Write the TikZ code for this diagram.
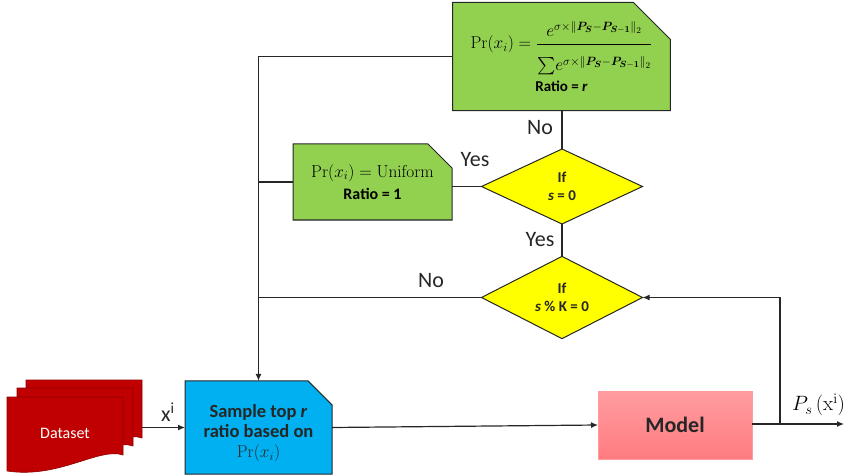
\documentclass[tikz,border=0pt]{standalone}
\usepackage{amsmath,bm}
\usepackage[no-math]{fontspec}
\setmainfont{Carlito}
\usetikzlibrary{shapes.misc,shapes.geometric,arrows.meta}
\definecolor{lin}{HTML}{262626}
\definecolor{gbox}{HTML}{92D050}
\definecolor{ybox}{HTML}{FFFF00}
\definecolor{bbox}{HTML}{00B0F0}
\definecolor{dred}{HTML}{C00000}
\definecolor{sedge}{HTML}{8E0000}
\definecolor{pinkt}{HTML}{FF9CA0}
\definecolor{pinkb}{HTML}{FF7C80}
\newcommand{\expo}{\sigma\times\left\|\bm{P}_{\bm{S}}-\bm{P}_{\bm{S}-\bm{1}}\right\|_2}
\tikzset{
  conn/.style={draw=lin, line width=1.2pt},
  arr/.style={conn, -{Latex[length=7pt,width=6pt]}},
  snip/.style={chamfered rectangle, chamfered rectangle corners=north east,
     draw=lin, line width=1pt, inner sep=0pt, outer sep=0pt, align=center, text=black},
  decision/.style={diamond, fill=ybox, draw=lin, line width=1pt, inner sep=0pt,
     outer sep=0pt, minimum width=161pt, minimum height=75pt, align=center,
     font=\fontsize{15}{18}\selectfont\bfseries, text=lin},
  lbl/.style={font=\fontsize{22}{26}\selectfont, text=lin, inner sep=0pt},
  sheet/.style={fill=dred, draw=sedge, line width=0.6pt},
}
\begin{document}
\begin{tikzpicture}[x=1pt,y=-1pt]
\useasboundingbox (0,0) rectangle (844,476);

% top formula box
\node[snip, fill=gbox, minimum width=213pt, minimum height=107pt,
      chamfered rectangle xsep=18pt, chamfered rectangle ysep=19pt] (top) at (561.5,56.5)
  {\fontsize{18}{21}\selectfont$\mathrm{Pr}(x_i)=\dfrac{e^{\expo}\rule[-5pt]{0pt}{0pt}}{\rule{0pt}{24pt}{\textstyle\sum}e^{\expo}}$\\[5pt]
   {\fontsize{15}{17}\selectfont\bfseries Ratio = \textit{r}}};

% uniform box
\node[snip, fill=gbox, minimum width=159pt, minimum height=76pt,
      chamfered rectangle xsep=12pt, chamfered rectangle ysep=12pt] (uni) at (372.5,182)
  {\fontsize{17}{20}\selectfont$\mathrm{Pr}(x_i)=\mathrm{Uniform}$\\[6pt]
   {\fontsize{16}{18}\selectfont\bfseries Ratio = 1}};

% decisions
\node[decision] (d1) at (562,186.5) {If\\\textit{s} = 0};
\node[decision] (d2) at (562,297.5) {If\\\textit{s} \% K = 0};

% dataset sheets
\filldraw[sheet] (26,380) -- (142,380) -- (142,438) .. controls (118,430) and (78,462) .. (26,454) -- cycle;
\filldraw[sheet] (17,388) -- (133,388) -- (133,446) .. controls (109,438) and (69,470) .. (17,462) -- cycle;
\filldraw[sheet] (7,397) -- (123,397) -- (123,455) .. controls (99,447) and (59,479) .. (7,471) -- cycle;
\node[text=white, font=\fontsize{16}{19}\selectfont, inner sep=0pt] (ds) at (65,433) {Dataset};
\coordinate (dsout) at (142,427.5);

% sample box
\node[snip, fill=bbox, minimum width=147pt, minimum height=79pt,
      chamfered rectangle xsep=12pt, chamfered rectangle ysep=12pt,
      font=\fontsize{18.5}{20}\selectfont\bfseries, text=lin] (samp) at (258.5,427.5)
  {\rule{0pt}{25pt}Sample top \textit{r}\\ratio based on\\{\mdseries\fontsize{18}{20}\selectfont$\mathrm{Pr}(x_i)$}};

% model box
\node[rectangle, top color=pinkt, bottom color=pinkb, draw=pinkt, line width=0.8pt,
      minimum width=154pt, minimum height=68pt, inner sep=0pt, outer sep=0pt,
      font=\fontsize{22}{26}\selectfont\bfseries, text=lin] (model) at (675,425) {Model};

\coordinate (tap) at (780,424);
\coordinate (out) at (844,424);

% connectors
\draw[arr] (top.west) -| (samp.north);
\draw[conn] (uni.west) -- (uni.west -| samp.north);
\draw[conn] (d2.west) -- (d2.west -| samp.north);
\draw[conn] (d1.west) -- (d1.west -| uni.east);
\draw[conn] (d1.north |- top.south) -- (d1.north);
\draw[conn] (d1.south) -- (d2.north);
\draw[arr] (dsout) -- (samp.west);
\draw[arr] (samp.east) -- (model.west);
\draw[arr] (model.east |- tap) -- (out);
\draw[arr] (tap) |- (d2.east);

% labels
\node[lbl] (no1) at (540,128) {No};
\node[lbl] (yes1) at (475,160) {Yes};
\node[lbl] (yes2) at (540,240) {Yes};
\node[lbl] (no2) at (431,281) {No};
\node[lbl] (xi) at (168,412) {x\textsuperscript{i}};
\node[inner sep=0pt, font=\fontsize{20}{22}\selectfont, anchor=west] (ps) at (792,405) {$P_s\,(\mathrm{x}^{\mathrm{i}})$};
\end{tikzpicture}
\end{document}
